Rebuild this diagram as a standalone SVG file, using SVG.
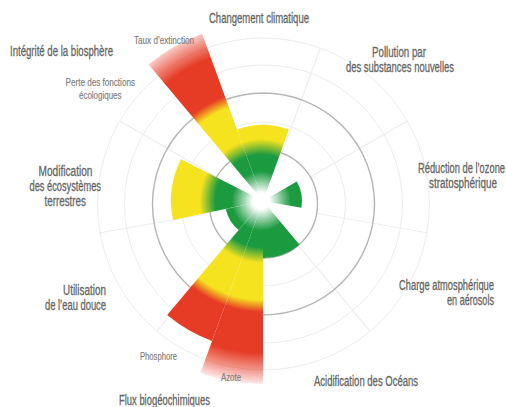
<svg xmlns="http://www.w3.org/2000/svg" width="506" height="407" viewBox="0 0 506 407">
<style>
.lbl{font-family:"Liberation Sans","DejaVu Sans",sans-serif;font-size:14px;fill:#666666;stroke:#666666;stroke-width:0.3}
.sub{font-family:"Liberation Sans","DejaVu Sans",sans-serif;font-size:11.5px;fill:#7f7f7f;stroke:#7f7f7f;stroke-width:0.2}
.end{text-anchor:end}
.ringd{fill:none;stroke:#b5b5b5;stroke-width:1.4}
.ringf{fill:none;stroke:#ececec;stroke-width:1}
.rad{stroke:#ececec;stroke-width:1}
</style>
<defs>
<radialGradient id="gmain" gradientUnits="userSpaceOnUse" cx="263" cy="201" r="185" fx="261" fy="201">
<stop offset="0" stop-color="#ffffff"/>
<stop offset="0.045" stop-color="#ffffff"/>
<stop offset="0.16" stop-color="#1b9a40"/>
<stop offset="0.25" stop-color="#1b9a40"/>
<stop offset="0.335" stop-color="#f6e31f"/>
<stop offset="0.535" stop-color="#f6e31f"/>
<stop offset="0.6" stop-color="#e63b25"/>
<stop offset="0.82" stop-color="#e63b25"/>
<stop offset="0.91" stop-color="#e63b25" stop-opacity="0.55"/>
<stop offset="1" stop-color="#e63b25" stop-opacity="0.05"/>
</radialGradient>
<radialGradient id="ggreen" gradientUnits="userSpaceOnUse" cx="263" cy="201" r="185" fx="261" fy="201">
<stop offset="0" stop-color="#ffffff"/>
<stop offset="0.045" stop-color="#ffffff"/>
<stop offset="0.16" stop-color="#1b9a40"/>
<stop offset="1" stop-color="#1b9a40"/>
</radialGradient>
</defs>
<rect width="506" height="407" fill="#ffffff"/>
<g id="grid">
<circle class="ringf" cx="263.5" cy="204" r="82"/>
<circle class="ringf" cx="263.5" cy="204" r="139"/>
<circle class="ringf" cx="263.5" cy="204" r="166"/>
<g transform="translate(263.5,204)">
<line class="rad" x1="0" y1="-54" x2="0" y2="-166" transform="rotate(20)"/>
<line class="rad" x1="0" y1="-54" x2="0" y2="-166" transform="rotate(60)"/>
<line class="rad" x1="0" y1="-54" x2="0" y2="-166" transform="rotate(100)"/>
<line class="rad" x1="0" y1="-54" x2="0" y2="-166" transform="rotate(140)"/>
<line class="rad" x1="0" y1="-54" x2="0" y2="-166" transform="rotate(180)"/>
<line class="rad" x1="0" y1="-54" x2="0" y2="-166" transform="rotate(-140)"/>
<line class="rad" x1="0" y1="-54" x2="0" y2="-166" transform="rotate(-100)"/>
<line class="rad" x1="0" y1="-54" x2="0" y2="-166" transform="rotate(-60)"/>
<line class="rad" x1="0" y1="-54" x2="0" y2="-166" transform="rotate(-20)"/>
</g>
<circle class="ringd" cx="263.5" cy="204" r="54"/>
<circle class="ringd" cx="263.5" cy="204" r="111"/>
</g>
<g id="connectors"></g>
<g id="climate">
<path d="M263,201 L237,129.6 A76,76 0 0 1 289,129.6 Z" fill="url(#gmain)"/>
<text class="lbl" x="209" y="23" textLength="100" lengthAdjust="spacingAndGlyphs">Changement climatique</text>
</g>
<g id="novel-entities">
<text class="lbl" x="372" y="57" textLength="54" lengthAdjust="spacingAndGlyphs">Pollution par</text>
<text class="lbl" x="346" y="72" textLength="108" lengthAdjust="spacingAndGlyphs">des substances nouvelles</text>
</g>
<g id="ozone">
<path d="M263,201 L296.8,181.5 A39,39 0 0 1 301.4,207.8 Z" fill="url(#ggreen)"/>
<text class="lbl end" x="505" y="173" textLength="87" lengthAdjust="spacingAndGlyphs">Réduction de l’ozone</text>
<text class="lbl end" x="497" y="188" textLength="68" lengthAdjust="spacingAndGlyphs">stratosphérique</text>
</g>
<g id="aerosols">
<text class="lbl end" x="494" y="289.5" textLength="95" lengthAdjust="spacingAndGlyphs">Charge atmosphérique</text>
<text class="lbl end" x="494" y="304.5" textLength="47" lengthAdjust="spacingAndGlyphs">en aérosols</text>
</g>
<g id="ocean">
<path d="M263,201 L299.6,244.7 A57,57 0 0 1 263,258 Z" fill="url(#ggreen)"/>
<text class="lbl" x="314" y="386" textLength="104" lengthAdjust="spacingAndGlyphs">Acidification des Océans</text>
</g>
<g id="biogeochemical">
<path d="M263,201 L263,384 A183,183 0 0 1 200.4,373 Z" fill="url(#gmain)"/>
<path d="M263,201 L212,341 A149,149 0 0 1 167.2,315.1 Z" fill="url(#gmain)"/>
<text class="sub" x="221" y="381" textLength="20" lengthAdjust="spacingAndGlyphs">Azote</text>
<text class="sub" x="140" y="360" textLength="37" lengthAdjust="spacingAndGlyphs">Phosphore</text>
<text class="lbl" x="119" y="404.5" textLength="91" lengthAdjust="spacingAndGlyphs">Flux biogéochimiques</text>
</g>
<g id="freshwater">
<path d="M263,201 L238.6,230.1 A38,38 0 0 1 225.8,208.9 Z" fill="url(#ggreen)"/>
<text class="lbl end" x="106" y="294.5" textLength="43" lengthAdjust="spacingAndGlyphs">Utilisation</text>
<text class="lbl end" x="106" y="309.5" textLength="61" lengthAdjust="spacingAndGlyphs">de l’eau douce</text>
</g>
<g id="land">
<path d="M263,201 L173,220.1 A92,92 0 0 1 181,159.2 Z" fill="url(#gmain)"/>
<text class="lbl" x="38.5" y="176" textLength="54" lengthAdjust="spacingAndGlyphs">Modification</text>
<text class="lbl" x="29.5" y="191" textLength="71.5" lengthAdjust="spacingAndGlyphs">des écosystèmes</text>
<text class="lbl" x="44.5" y="206" textLength="41.5" lengthAdjust="spacingAndGlyphs">terrestres</text>
</g>
<g id="biosphere">
<path d="M263,201 L148.6,64.6 A178,178 0 0 1 202.1,33.7 Z" fill="url(#gmain)"/>
<text class="lbl" x="10" y="56" textLength="103" lengthAdjust="spacingAndGlyphs">Intégrité de la biosphère</text>
<text class="sub" x="134" y="44" textLength="60" lengthAdjust="spacingAndGlyphs">Taux d’extinction</text>
<text class="sub" x="65.5" y="85.5" textLength="69.5" lengthAdjust="spacingAndGlyphs">Perte des fonctions</text>
<text class="sub" x="79" y="98.5" textLength="42.5" lengthAdjust="spacingAndGlyphs">écologiques</text>
</g>
</svg>
